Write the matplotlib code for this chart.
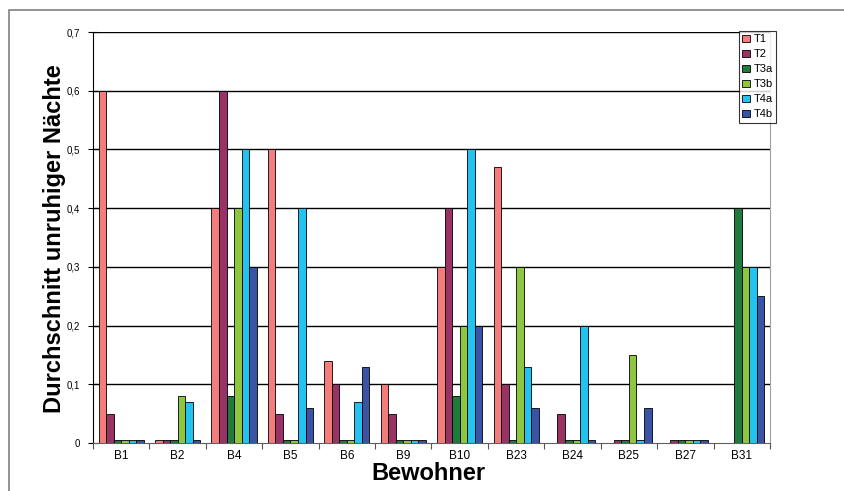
import numpy as np
import matplotlib
matplotlib.use("Agg")
import matplotlib.pyplot as plt
from matplotlib.patches import Rectangle
from matplotlib.ticker import FixedLocator, FuncFormatter

plt.rcParams['font.family'] = ['Liberation Sans', 'DejaVu Sans']

#
# Data
#
residents = ["B1", "B2", "B4", "B5", "B6", "B9", "B10", "B23", "B24", "B25", "B27", "B31"]
series_names = ["T1", "T2", "T3a", "T3b", "T4a", "T4b"]

t1  = [0.6,   0.005, 0.4,  0.5,   0.14,  0.1,   0.3,  0.47,  0.0,   0.0,   0.0,   0.0]
t2  = [0.05,  0.005, 0.6,  0.05,  0.1,   0.05,  0.4,  0.1,   0.05,  0.005, 0.005, 0.0]
t3a = [0.005, 0.005, 0.08, 0.005, 0.005, 0.005, 0.08, 0.005, 0.005, 0.005, 0.005, 0.4]
t3b = [0.005, 0.08,  0.4,  0.005, 0.005, 0.005, 0.2,  0.3,   0.005, 0.15,  0.005, 0.3]
t4a = [0.005, 0.07,  0.5,  0.4,   0.07,  0.005, 0.5,  0.13,  0.2,   0.005, 0.005, 0.3]
t4b = [0.005, 0.005, 0.3,  0.06,  0.13,  0.005, 0.2,  0.06,  0.005, 0.06,  0.005, 0.25]

colors = ["#F47C7C", "#993366", "#1E7B3C", "#8DC63F", "#22C3F0", "#3A53A4"]
y_ticks = [0, 0.1, 0.2, 0.3, 0.4, 0.5, 0.6, 0.7]

#
# Plot
#
fig = plt.figure(figsize=(8.45, 4.91), dpi=100)
ax = fig.add_axes([93 / 845, 48 / 491, 677 / 845, 411 / 491])

# outer chart frame
fig.add_artist(Rectangle((9 / 845, -0.1), 1.2, (481 / 491) + 0.1, transform=fig.transFigure,
                         fill=False, edgecolor="#808080", linewidth=1.2))

x = np.arange(len(residents))
width = 0.8 / 6
all_series = [t1, t2, t3a, t3b, t4a, t4b]
for i, (name, vals, col) in enumerate(zip(series_names, all_series, colors)):
    offs = (i - 2.5) * width
    ax.bar(x + offs, vals, width, color=col, edgecolor="black", linewidth=0.6,
           label=name, zorder=3)

ax.set_xlim(-0.5, len(residents) - 0.5)
ax.set_ylim(0, 0.7)

# horizontal gridlines
for y in y_ticks[1:]:
    ax.axhline(y, color="black", linewidth=1.0, zorder=1)

ax.yaxis.set_major_locator(FixedLocator(y_ticks))
ax.yaxis.set_major_formatter(FuncFormatter(lambda v, p: "0" if v == 0 else ("%.1f" % v).replace(".", ",")))
ax.tick_params(axis="y", direction="inout", length=7, width=0.8, labelsize=7, pad=6)

ax.set_xticks(x)
ax.set_xticklabels(residents)
ax.xaxis.set_minor_locator(FixedLocator(np.arange(-0.5, len(residents), 1.0)))
ax.tick_params(axis="x", which="major", length=0, labelsize=8.5, pad=5)
ax.tick_params(axis="x", which="minor", length=4, width=0.8, color="#555555")

ax.spines["top"].set_visible(False)
ax.spines["left"].set_color("black")
ax.spines["bottom"].set_color("#606060")
ax.spines["right"].set_color("#A0A0A0")

ax.set_ylabel("Durchschnitt unruhiger Nächte", fontsize=17, fontweight="bold")
ax.yaxis.set_label_coords(-0.04, 0.497)
ax.set_xlabel("Bewohner", fontsize=17, fontweight="bold")
ax.xaxis.set_label_coords(0.496, -0.047)

leg = ax.legend(loc="upper left", bbox_to_anchor=(739 / 845, 460 / 491), bbox_transform=fig.transFigure,
                fontsize=8, frameon=True, fancybox=False, edgecolor="black",
                handlelength=0.7, handleheight=0.7, handletextpad=0.3, labelspacing=0.45,
                borderpad=0.3, borderaxespad=0)
leg.get_frame().set_linewidth(0.8)
leg.set_zorder(5)

fig.savefig("out.png", dpi=100)
